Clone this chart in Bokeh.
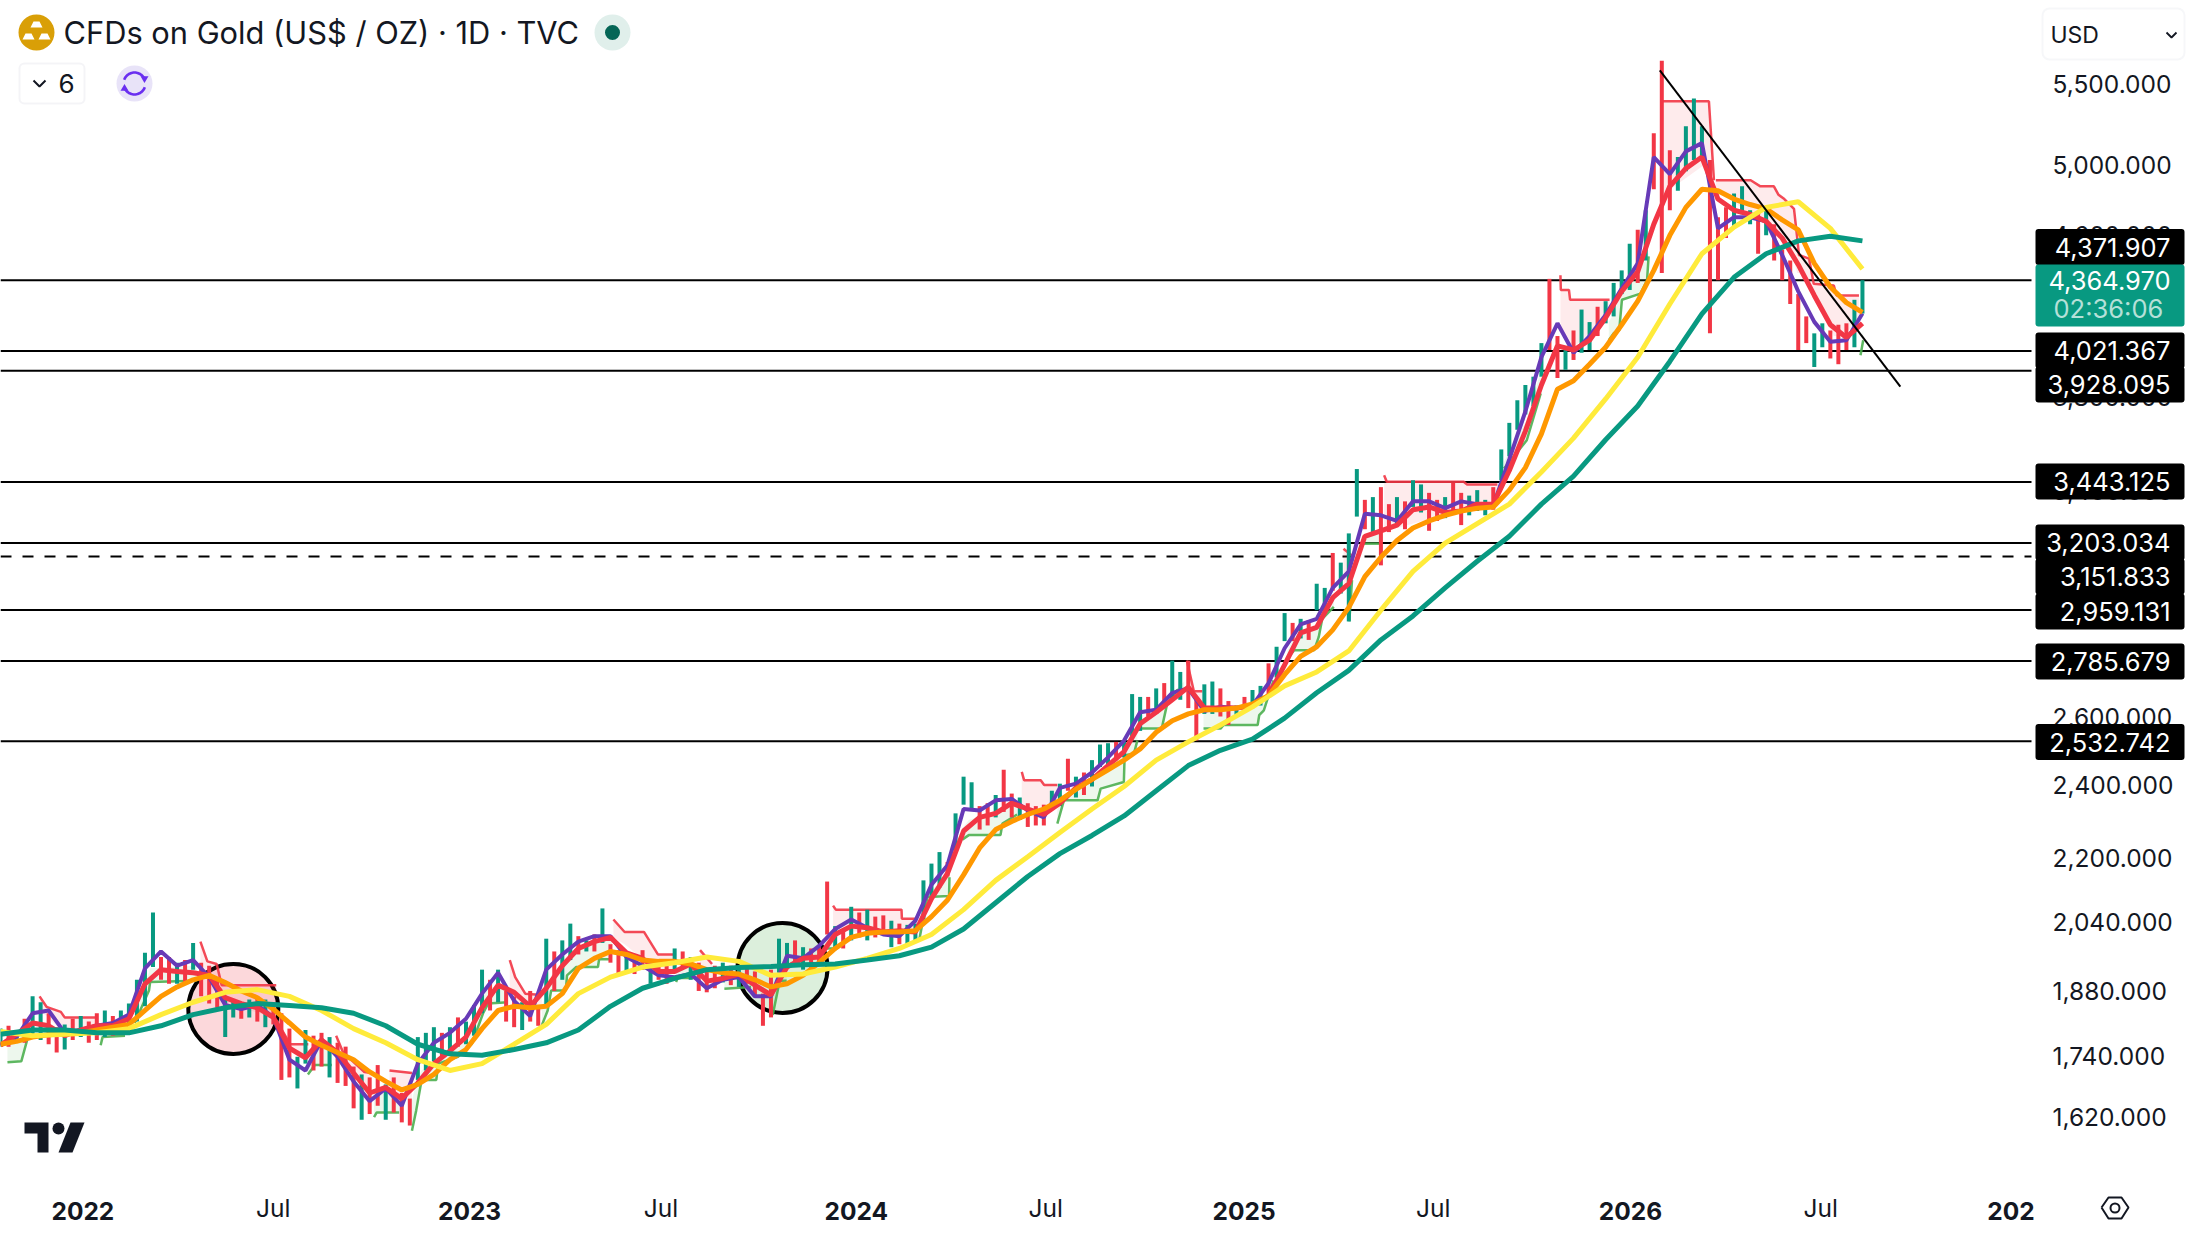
import math
import numpy as np
from bokeh.embed import file_html
from bokeh.models import BoxAnnotation, ColumnDataSource, FixedTicker, Label, LinearAxis, LogAxis, Range1d
from bokeh.plotting import figure
from bokeh.resources import INLINE

# ---------- chart values ----------
TITLE = "CFDs on Gold (US$ / OZ) · 1D · TVC"
LAST_PRICE = 4364.970
COUNTDOWN = "02:36:06"
FIRST_DATE, LAST_DATE = 2021.787, 2026.602

price_ticks = [5500, 5000, 4600, 4200, 3800, 3400, 3000, 2800, 2600, 2400, 2200, 2040, 1880, 1740, 1620]
year_ticks = [2022.0, 2023.0, 2024.0, 2025.003, 2026.002, 2026.986]
year_labels = ["2022", "2023", "2024", "2025", "2026", "202"]
jul_ticks = [2022.4925, 2023.495, 2024.49, 2025.492, 2026.494]

level_prices = [4371.907, 4021.367, 3928.095, 3443.125, 3203.034, 3151.833, 2959.131, 2785.679, 2532.742]
level_dashed = [False, False, False, False, False, True, False, False, False]

ma200 = [1786,1795,1795,1789,1789,1804,1828,1843,1852,1848,1843,1831,1804,1765,1745,1742,1754,1768,1795,1846,
         1886,1908,1928,1933,1935,1939,1941,1950,1960,1980,2023,2087,2153,2212,2260,2313,2383,2455,2500,2533,
         2597,2676,2748,2849,2931,3030,3127,3221,3346,3459,3611,3758,3962,4192,4377,4501,4570,4595,4570]
ma100 = [1792,1783,1786,1789,1798,1828,1855,1877,1883,1868,1837,1798,1768,1733,1711,1725,1765,1807,1874,1911,
         1934,1944,1957,1947,1915,1918,1934,1954,1977,2010,2070,2143,2204,2268,2332,2395,2471,2525,2576,2632,
         2698,2743,2812,2951,3090,3195,3270,3346,3476,3618,3790,3982,4241,4501,4645,4755,4787,4638,4420]
ma50 = [1765,1771,1780,1785,1787,1789,1795,1801,1807,1837,1868,1889,1905,1915,1899,1880,1865,1840,1810,1780,
        1763,1748,1733,1708,1689,1672,1683,1703,1733,1754,1798,1837,1846,1843,1846,1874,1931,1954,1970,1963,
        1950,1947,1947,1941,1928,1921,1918,1905,1889,1896,1915,1944,1977,2003,2013,2016,2016,2019,2053,2094,
        2157,2227,2276,2298,2317,2332,2356,2387,2415,2443,2471,2504,2554,2589,2610,2623,2623,2628,2641,2667,
        2734,2794,2826,2883,2961,3071,3142,3205,3253,3280,3302,3319,3330,3335,3402,3494,3636,3834,3872,3949,
        4029,4138,4255,4413,4600,4755,4858,4850,4802,4771,4747,4685,4630,4450,4327,4248,4199]
ma20 = [1763,1786,1810,1804,1783,1795,1804,1804,1819,1896,1928,1924,1921,1915,1865,1852,1843,1822,1757,1737,
        1774,1748,1706,1666,1677,1655,1686,1725,1751,1780,1843,1893,1877,1846,1886,1937,1977,1993,2003,1967,
        1954,1924,1924,1941,1902,1908,1918,1893,1871,1934,1954,1957,2010,2030,2026,2016,2019,2016,2097,2161,
        2272,2309,2320,2348,2332,2317,2348,2391,2415,2455,2496,2580,2615,2654,2694,2628,2628,2628,2636,2667,
        2766,2873,2892,2995,3045,3221,3242,3264,3324,3335,3313,3319,3346,3346,3482,3648,3853,4036,4016,4063,
        4172,4305,4406,4661,4875,4980,5047,4802,4739,4716,4677,4585,4443,4284,4138,4076,4145]
ma10 = [1763,1780,1831,1837,1789,1795,1804,1810,1828,1931,1970,1937,1950,1911,1849,1840,1849,1822,1733,1711,
        1774,1739,1689,1650,1675,1641,1725,1768,1789,1819,1874,1921,1858,1825,1928,1963,1993,2006,2006,1957,
        1937,1915,1911,1918,1886,1905,1911,1868,1868,1960,1954,1983,2023,2046,2026,2010,2006,2043,2132,2182,
        2332,2328,2356,2360,2328,2309,2391,2403,2435,2479,2529,2615,2623,2676,2690,2619,2632,2628,2636,2707,
        2821,2902,2921,3030,3090,3308,3302,3280,3357,3357,3330,3357,3346,3340,3529,3734,3982,4145,4003,4083,
        4186,4319,4450,5047,4946,5081,5131,4638,4700,4700,4677,4494,4305,4152,4056,4063,4193]

bar_high = [1798,1804,1795,1819,1868,1855,1831,1801,1807,1819,1825,1813,1831,1837,1825,1837,1852,1905,1967,2063,
            1957,1957,1944,1950,1990,1944,1937,1905,1868,1858,1855,1861,1868,1861,1855,1831,1798,1739,1795,1783,
            1789,1780,1768,1760,1719,1703,1697,1722,1683,1697,1666,1655,1780,1789,1801,1789,1801,1822,1813,1849,
            1928,1905,1928,1880,1868,1855,1880,1846,2000,1970,1996,2036,2006,1996,2010,2073,1987,1973,1967,1960,
            1973,1950,1937,1937,1977,1970,1957,1944,1931,1937,1944,1937,1934,1937,1924,1874,1928,2000,1990,1996,
            1980,1977,1980,2140,2030,2019,2077,2063,2070,2053,2056,2043,2036,2033,2036,2143,2186,2216,2190,2320,
            2423,2407,2340,2348,2371,2443,2375,2364,2348,2340,2344,2383,2403,2475,2423,2435,2471,2517,2521,2525,
            2525,2672,2663,2663,2690,2707,2780,2743,2780,2654,2703,2712,2690,2650,2636,2663,2685,2698,2771,2826,
            2941,2907,2921,2916,3045,3030,3158,3122,3232,3488,3363,3374,3414,3346,3374,3357,3442,3425,3391,3363,
            3374,3431,3391,3380,3402,3363,3414,3570,3684,3784,3853,3891,4049,4369,4083,4016,4110,4213,4151,4227,
            4255,4348,4413,4555,4630,4739,5191,5657,5088,5047,5235,5410,5235,5030,4700,4755,4834,4875,4739,4724,
            4739,4661,4524,4465,4291,4179,4096,4145,4110,4138,4145,4262,4362]
bar_low = [1760,1760,1768,1768,1780,1774,1765,1748,1754,1774,1780,1768,1774,1780,1783,1789,1789,1813,1846,1934,
           1905,1896,1896,1896,1928,1868,1852,1843,1780,1822,1819,1822,1813,1801,1807,1692,1697,1675,1725,1711,
           1719,1697,1686,1680,1636,1614,1625,1641,1614,1628,1609,1603,1692,1711,1730,1737,1748,1760,1765,1783,
           1831,1837,1855,1813,1801,1795,1813,1804,1846,1880,1905,1950,1963,1970,1970,1990,1944,1918,1924,1918,
           1928,1896,1905,1896,1928,1931,1905,1880,1877,1886,1899,1893,1889,1896,1868,1804,1822,1921,1934,1937,
           1928,1931,1937,2010,1973,1977,1996,2003,1996,2003,2010,1980,1987,1983,1996,2046,2104,2125,2153,2219,
           2344,2328,2276,2287,2309,2324,2309,2302,2283,2287,2287,2336,2340,2383,2364,2371,2395,2451,2459,2471,
           2479,2542,2558,2602,2610,2632,2654,2654,2628,2529,2610,2610,2602,2576,2602,2619,2628,2636,2672,2725,
           2845,2845,2854,2849,2951,2946,3020,3010,2912,3297,3248,3237,3112,3237,3259,3248,3335,3313,3242,3280,
           3291,3308,3264,3302,3319,3302,3324,3442,3541,3654,3721,3758,3891,4016,3885,3923,3969,4003,4016,4083,
           4145,4179,4291,4312,4348,4465,4858,4399,4739,4850,4963,5030,5047,4096,4362,4585,4645,4716,4661,4501,
           4600,4465,4362,4241,4016,4049,3936,4029,3976,3949,4016,4029,4193]
bar_up = ("grgrggrrgr" "grrgrggggg" "rrgrgrrrgg" "rgrgrrrggr" "rgrrrgrrgr" "rrgggrgrgg" "grgrrgrrgr" "ggrgrgrrgr"
          "rgrrgrgrrr" "grgrrrrggr" "grrrgrgrgr" "rgrgggggrg" "ggrrgrrgrr" "rggrgrgggr" "gggrgrggrr" "ggrrgrggrg"
          "grgrggrggg" "rgrrgrggrr" "grrgggrggg" "gggrrgrggr" "ggggrgrrrg" "gggrrrgggr" "grrrrrggrr" "rgg")

# Stop-line segments: (date, stop price, price it is shaded towards)
red_stops = [
    [(2021.888,1868,1837),(2021.906,1845,1825),(2021.943,1834,1795),(2021.953,1822,1792),(2022.037,1822,1798)],
    [(2022.304,1993,1937),(2022.322,1947,1915),(2022.346,1941,1880),(2022.359,1893,1858),(2022.500,1893,1819)],
    [(2022.500,1816,1816),(2022.536,1765,1757),(2022.583,1765,1742)],
    [(2022.655,1783,1754),(2022.673,1748,1739),(2022.728,1708,1675),(2022.746,1706,1669)],
    [(2022.793,1711,1675),(2022.851,1706,1652)],
    [(2023.104,1950,1880),(2023.118,1911,1861),(2023.144,1874,1837),(2023.187,1871,1837)],
    [(2023.372,2046,2003),(2023.401,2016,1987),(2023.451,2016,1950),(2023.487,1963,1921),(2023.534,1963,1931)],
    [(2023.596,1973,1921),(2023.627,1941,1893)],
    [(2023.940,2080,2016),(2023.947,2070,2019),(2024.117,2070,2013),(2024.118,2048,2013),(2024.157,2048,2023)],
    [(2024.428,2437,2340),(2024.434,2413,2336),(2024.477,2413,2317),(2024.486,2399,2313),(2024.520,2399,2336)],
    [(2024.855,2780,2707),(2024.873,2681,2654),(2024.895,2681,2628)],
    [(2025.260,3174,3030),(2025.282,3148,3055)],
    [(2025.365,3462,3242),(2025.372,3436,3242),(2025.571,3436,3324),(2025.579,3425,3324),(2025.658,3425,3357)],
    [(2025.821,4388,4151),(2025.822,4312,4138),(2025.843,4312,4016),(2025.846,4262,4016),(2025.948,4262,4179)],
    [(2026.080,5391,4818),(2026.205,5391,5020),(2026.218,4910,4899)],
    [(2026.223,4910,4858),(2026.313,4910,4716),(2026.338,4875,4692),(2026.373,4875,4661),(2026.385,4826,4585),
     (2026.400,4802,4547),(2026.425,4747,4472),(2026.433,4592,4399),(2026.438,4494,4399),(2026.464,4475,4326),
     (2026.476,4344,4277),(2026.528,4335,4083),(2026.535,4284,4083),(2026.593,4284,4138)],
]
green_stops = [
    [(2021.805,1728,1768),(2021.841,1730,1792),(2021.856,1774,1804)],
    [(2022.046,1763,1804),(2022.051,1780,1804),(2022.109,1783,1816)],
    [(2022.134,1810,1843),(2022.171,1881,1921),(2022.174,1900,1931),(2022.294,1903,1937)],
    [(2022.582,1703,1739),(2022.600,1722,1768),(2022.644,1722,1754)],
    [(2022.753,1619,1663),(2022.760,1628,1669),(2022.818,1628,1655)],
    [(2022.851,1593,1650),(2022.862,1632,1689),(2022.876,1692,1711),(2022.914,1692,1737),(2022.919,1725,1739),
     (2022.970,1739,1768),(2023.006,1766,1789),(2023.035,1831,1868),(2023.048,1852,1889),(2023.099,1855,1889)],
    [(2023.187,1805,1849),(2023.202,1837,1880),(2023.211,1881,1915),(2023.249,1881,1950),(2023.252,1915,1954),
     (2023.276,1934,1973),(2023.332,1934,1996),(2023.335,1952,1996),(2023.368,1952,2003)],
    [(2023.534,1900,1931),(2023.538,1909,1934),(2023.589,1909,1931)],
    [(2023.659,1885,1911),(2023.728,1889,1915)],
    [(2023.784,1827,1868),(2023.802,1903,1931),(2023.820,1903,1941)],
    [(2023.913,1977,1996),(2023.940,1977,2003)],
    [(2024.162,1993,2019),(2024.184,2101,2104),(2024.240,2104,2168),(2024.241,2151,2168)],
    [(2024.274,2249,2279),(2024.291,2261,2302),(2024.373,2261,2332),(2024.378,2292,2332),(2024.416,2317,2348)],
    [(2024.520,2292,2332),(2024.537,2356,2364),(2024.624,2356,2423),(2024.632,2389,2431),(2024.692,2408,2496),
     (2024.694,2485,2500),(2024.718,2490,2546),(2024.727,2529,2567)],
    [(2024.736,2565,2589),(2024.790,2565,2623),(2024.804,2642,2645),(2024.830,2685,2690),(2024.848,2685,2712)],
    [(2024.898,2565,2628),(2024.942,2565,2628),(2024.950,2576,2628),(2025.038,2576,2632),(2025.042,2606,2641),
     (2025.054,2621,2654),(2025.079,2716,2720)],
    [(2025.115,2787,2812),(2025.132,2814,2859),(2025.184,2814,2887),(2025.196,2859,2897),(2025.205,2921,2931),
     (2025.235,2963,3005)],
    [(2025.275,2912,3030),(2025.282,3058,3081)],
    [(2025.313,3193,3226),(2025.360,3193,3237)],
    [(2025.675,3490,3517),(2025.734,3609,3696),(2025.770,3815,3916)],
    [(2025.946,4063,4151),(2025.959,4097,4192),(2025.973,4110,4277),(2025.980,4262,4326),(2026.028,4293,4435),
     (2026.045,4362,4472),(2026.049,4487,4509)],
    [(2026.597,3991,4016),(2026.604,4063,4117)],
]

trend_dates = [2026.078, 2026.700]
trend_prices = [5592, 3846]

# ---------- page geometry and colours ----------
W, H = 2186, 1228
X0, X1 = 2021.787, 2027.440
Y0, Y1 = 1419.0, 6075.0
INK, TEAL, RED, ORANGE, YELLOW, PURPLE, GREEN = "#131722", "#089981", "#F23645", "#FF9800", "#FFEB3B", "#673AB7", "#4CAF50"
FONT = "Inter"
PANE_RIGHT, PANE_BOTTOM = 2033, 1175
LEVEL_NUDGE = 2  # the levels sit 2px below the tick labels' centres in the reference
LEVEL_LABEL_PY = [246.5, 350, 384, 481, 542, 576, 611, 661, 741.5]


def xd(px):
    return X0 + px / W * (X1 - X0)


def yd(py):
    return Y1 * (Y0 / Y1) ** (py / H)


def py_of(price):
    return H * math.log(Y1 / price) / math.log(Y1 / Y0)


p = figure(width=W, height=H, output_backend="svg", toolbar_location=None,
           x_range=Range1d(X0, X1), y_range=Range1d(Y0, Y1), y_axis_type="log",
           x_axis_location=None, y_axis_location=None, background_fill_color="white", border_fill_color="white",
           min_border=0)
p.outline_line_color = None
p.grid.visible = False

xa = LinearAxis(ticker=FixedTicker(ticks=year_ticks), fixed_location=yd(PANE_BOTTOM),
                major_label_overrides=dict(zip(year_ticks, year_labels)), axis_line_color=None,
                major_tick_line_color=None, minor_tick_line_color=None, major_label_text_font=FONT,
                major_label_text_font_size="24.5px", major_label_text_font_style="bold",
                major_label_text_color=INK, major_label_standoff=20)
p.add_layout(xa, "below")

ya = LogAxis(ticker=FixedTicker(ticks=price_ticks), fixed_location=xd(PANE_RIGHT), axis_line_color=None,
             major_tick_line_color=None, minor_tick_line_color=None, major_label_text_font=FONT,
             major_label_text_font_size="24.5px", major_label_text_color=INK, major_label_standoff=13,
             major_label_overrides={t: f"{t:,.3f}" for t in price_ticks})
p.add_layout(ya, "right")

# highlighted circles
p.scatter([xd(232.8)], [yd(1008.4)], size=90, marker="circle", fill_color="#FCD8DB", line_color="black", line_width=4)
p.scatter([xd(782)], [yd(967.4)], size=90, marker="circle", fill_color="#DCEFDC", line_color="black", line_width=4)

# price levels
for price, dashed in zip(level_prices, level_dashed):
    level_y = yd(py_of(price) + LEVEL_NUDGE)
    p.line([X0, xd(PANE_RIGHT - 2)], [level_y, level_y], line_color="black", line_width=2,
           line_dash="11 11" if dashed else "solid")

# stop lines and their shading
for segs, color in ((red_stops, RED), (green_stops, GREEN)):
    for seg in segs:
        t, stop, base = zip(*seg)
        p.varea(x=list(t), y1=list(stop), y2=list(base), fill_color=color, fill_alpha=0.1)
        p.line(list(t), list(stop), line_color=color, line_width=2.5, line_alpha=0.9)

# bars
bar_dates = np.linspace(FIRST_DATE, LAST_DATE, len(bar_high))
bars = ColumnDataSource(dict(x=bar_dates, hi=bar_high, lo=bar_low,
                             c=[TEAL if b == "g" else RED for b in bar_up[:len(bar_high)]]))
p.segment("x", "lo", "x", "hi", source=bars, line_color="c", line_width=4)

# moving averages
for series, color, width in ((ma10, PURPLE, 4), (ma20, RED, 5), (ma50, ORANGE, 5), (ma100, YELLOW, 5), (ma200, TEAL, 5)):
    p.line(np.linspace(FIRST_DATE, LAST_DATE, len(series)), series, line_color=color, line_width=width)

p.line(trend_dates, trend_prices, line_color="black", line_width=2)

# TradingView mark
p.patch([xd(v) for v in (24, 48, 48, 37, 37, 24)], [yd(v) for v in (1122, 1122, 1152, 1152, 1133, 1133)], fill_color=INK, line_color=None)
p.patch([xd(v) for v in (70, 84, 72, 58)], [yd(v) for v in (1122, 1122, 1152, 1152)], fill_color=INK, line_color=None)
p.scatter([xd(58)], [yd(1128)], size=12, marker="circle", fill_color=INK, line_color=None)

# header icons
p.scatter([xd(36)], [yd(32)], size=36, marker="circle", fill_color="#D99F07", line_color=None)
for cx, cy in ((36, 24), (28, 36), (44, 36)):
    p.patch([xd(v) for v in (cx - 3, cx + 3, cx + 6, cx - 6)], [yd(v) for v in (cy - 3, cy - 3, cy + 3, cy + 3)],
            fill_color="white", line_color=None)
p.scatter([xd(612)], [yd(32)], size=36, marker="circle", fill_color="#E0EFEB", line_color=None)
p.scatter([xd(612)], [yd(32)], size=15, marker="circle", fill_color="#056656", line_color=None)
p.scatter([xd(134)], [yd(83)], size=36, marker="circle", fill_color="#E8E3F8", line_color=None)
for a0, a1 in ((200, 340), (20, 160)):
    angs = np.radians(np.linspace(a0, a1, 14))
    p.line([xd(134 + 11 * math.cos(a)) for a in angs], [yd(83 - 11 * math.sin(a)) for a in angs],
           line_color="#6A2FF0", line_width=2.6)
p.scatter([xd(144)], [yd(78)], size=8, marker="triangle", angle=3.14, fill_color="#6A2FF0", line_color=None)
p.scatter([xd(124)], [yd(88)], size=8, marker="triangle", fill_color="#6A2FF0", line_color=None)
p.line([xd(33), xd(39), xd(45)], [yd(80), yd(86), yd(80)], line_color=INK, line_width=2)

# settings hexagon and the currency chevron
hex_x, hex_y = (2101, 2108, 2121, 2128, 2121, 2108, 2101), (1207, 1197, 1197, 1207, 1218, 1218, 1207)
p.line([xd(v) for v in hex_x], [yd(v) for v in hex_y], line_color=INK, line_width=2)
p.scatter([xd(2114.5)], [yd(1207.5)], size=9, marker="circle", fill_color=None, line_color=INK, line_width=2)
p.line([xd(2166), xd(2171), xd(2176)], [yd(32), yd(37), yd(32)], line_color=INK, line_width=1.8)


def rect(left, right, top, bottom, fill=None, line=None, radius=4):
    p.add_layout(BoxAnnotation(left=xd(left), right=xd(right), top=yd(top), bottom=yd(bottom),
                               fill_color=fill, fill_alpha=1 if fill else 0, line_color=line,
                               line_width=2 if line else 0, border_radius=radius, level="annotation"))


def add_label(text, px, py, size="25.5px", color=INK, style="normal", align="left"):
    p.add_layout(Label(x=px, y=H - py, x_units="screen", y_units="screen", text=text, text_font=FONT,
                       text_font_size=size, text_color=color, text_font_style=style, text_align=align,
                       text_baseline="middle"))


add_label(TITLE, 63, 32, size="30.8px")
rect(19, 84, 63, 103, line="#D9DBE3", radius=5)
add_label("6", 66, 83, size="26px", align="center")

for x_t in jul_ticks:
    p.add_layout(Label(x=x_t, y=H - 1207, x_units="data", y_units="screen", text="Jul", text_font=FONT,
                       text_font_size="24.5px", text_color=INK, text_align="center", text_baseline="middle"))

for cy in LEVEL_LABEL_PY:
    rect(2035, 2184, cy - 18, cy + 18, fill="black", radius=3)
rect(2035, 2184, 264, 326, fill=TEAL, radius=3)
for price, cy in zip(level_prices, LEVEL_LABEL_PY):
    add_label(f"{price:,.3f}", 2170, cy, color="white", align="right")

add_label(f"{LAST_PRICE:,.3f}", 2170, 280, color="white", align="right")
add_label(COUNTDOWN, 2053, 308, color="#B5E0D8")

rect(2042, 2184, 8, 59, line="#E0E3EB", radius=7)
add_label("USD", 2050, 34, size="23px")

open("out.html", "w").write(file_html(p, INLINE))
